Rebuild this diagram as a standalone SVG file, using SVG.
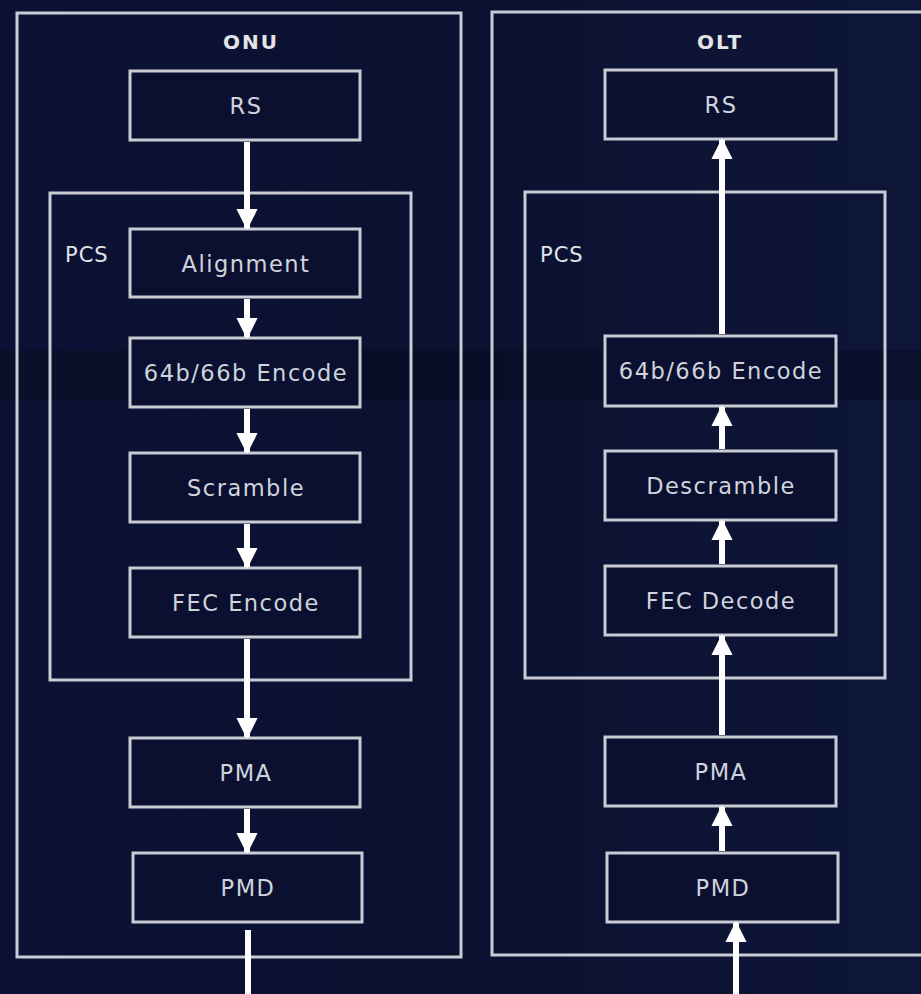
<svg xmlns="http://www.w3.org/2000/svg" width="921" height="994" viewBox="0 0 921 994">
<defs>
<style>
.frame{fill:none;stroke:#c9ccd3;stroke-width:3}
.box{fill:#0b1030;stroke:#c9ccd3;stroke-width:3}
.lbl{font-family:"DejaVu Sans","Liberation Sans",sans-serif;font-size:22.5px;letter-spacing:1.5px;fill:#d0d3dc;text-anchor:middle;dominant-baseline:central}
.ttl{font-family:"DejaVu Sans","Liberation Sans",sans-serif;font-size:20px;letter-spacing:2px;font-weight:bold;fill:#e2e4ea;text-anchor:middle;dominant-baseline:central}
.pcs{font-family:"DejaVu Sans","Liberation Sans",sans-serif;font-size:21px;letter-spacing:1px;fill:#e2e4ea;dominant-baseline:central}
.wire{stroke:#ffffff;stroke-width:6;fill:none}
</style>
<marker id="ah" viewBox="0 0 10 10" refX="9" refY="5" markerWidth="3.6" markerHeight="3.8" orient="auto" markerUnits="strokeWidth">
<path d="M0,0 L10,5 L0,10 z" fill="#ffffff"/>
</marker>
<linearGradient id="bg" x1="0" y1="0" x2="1" y2="0">
<stop offset="0" stop-color="#0c1235"/>
<stop offset="0.5" stop-color="#0b1130"/>
<stop offset="1" stop-color="#0e1638"/>
</linearGradient>
</defs>
<rect x="0" y="0" width="921" height="994" fill="url(#bg)"/>
<rect x="0" y="350" width="921" height="50" fill="#070b20" opacity="0.5"/>

<g id="onu">
<rect class="frame" x="17" y="13" width="444" height="944"/>
<text class="ttl" x="251" y="42">ONU</text>
</g>
<g id="onu-pcs">
<rect class="frame" x="50" y="193" width="361" height="487"/>
<text class="pcs" x="65" y="255">PCS</text>
</g>
<g id="onu-rs"><rect class="box" x="130" y="71" width="230" height="69"/><text class="lbl" x="246" y="106">RS</text></g>
<g id="onu-align"><rect class="box" x="130" y="229" width="230" height="68"/><text class="lbl" x="246" y="264">Alignment</text></g>
<g id="onu-enc"><rect class="box" x="130" y="338" width="230" height="69"/><text class="lbl" x="246" y="373">64b/66b Encode</text></g>
<g id="onu-scr"><rect class="box" x="130" y="453" width="230" height="69"/><text class="lbl" x="246" y="488">Scramble</text></g>
<g id="onu-fec"><rect class="box" x="130" y="568" width="230" height="69"/><text class="lbl" x="246" y="603">FEC Encode</text></g>
<g id="onu-pma"><rect class="box" x="130" y="738" width="230" height="69"/><text class="lbl" x="246" y="773">PMA</text></g>
<g id="onu-pmd"><rect class="box" x="133" y="853" width="229" height="69"/><text class="lbl" x="248" y="888">PMD</text></g>

<g id="olt">
<path class="frame" d="M930,12 L492,12 L492,955 L930,955"/>
<text class="ttl" x="720" y="42">OLT</text>
</g>
<g id="olt-pcs">
<rect class="frame" x="525" y="192" width="360" height="486"/>
<text class="pcs" x="540" y="255">PCS</text>
</g>
<g id="olt-rs"><rect class="box" x="605" y="70" width="231" height="69"/><text class="lbl" x="721" y="105">RS</text></g>
<g id="olt-enc"><rect class="box" x="605" y="336" width="231" height="70"/><text class="lbl" x="721" y="371">64b/66b Encode</text></g>
<g id="olt-des"><rect class="box" x="605" y="451" width="231" height="69"/><text class="lbl" x="721" y="486">Descramble</text></g>
<g id="olt-fec"><rect class="box" x="605" y="566" width="231" height="69"/><text class="lbl" x="721" y="601">FEC Decode</text></g>
<g id="olt-pma"><rect class="box" x="605" y="737" width="231" height="69"/><text class="lbl" x="721" y="772">PMA</text></g>
<g id="olt-pmd"><rect class="box" x="607" y="853" width="231" height="69"/><text class="lbl" x="723" y="888">PMD</text></g>

<g id="connectors">
<line class="wire" x1="247" y1="142" x2="247" y2="228" marker-end="url(#ah)"/>
<line class="wire" x1="247" y1="299" x2="247" y2="337" marker-end="url(#ah)"/>
<line class="wire" x1="247" y1="409" x2="247" y2="452" marker-end="url(#ah)"/>
<line class="wire" x1="247" y1="524" x2="247" y2="567" marker-end="url(#ah)"/>
<line class="wire" x1="247" y1="639" x2="247" y2="737" marker-end="url(#ah)"/>
<line class="wire" x1="247" y1="809" x2="247" y2="852" marker-end="url(#ah)"/>
<line class="wire" x1="248" y1="930" x2="248" y2="994"/>
<line class="wire" x1="722" y1="334" x2="722" y2="140" marker-end="url(#ah)"/>
<line class="wire" x1="722" y1="449" x2="722" y2="407" marker-end="url(#ah)"/>
<line class="wire" x1="722" y1="564" x2="722" y2="521" marker-end="url(#ah)"/>
<line class="wire" x1="722" y1="735" x2="722" y2="636" marker-end="url(#ah)"/>
<line class="wire" x1="722" y1="851" x2="722" y2="807" marker-end="url(#ah)"/>
<line class="wire" x1="736" y1="994" x2="736" y2="923" marker-end="url(#ah)"/>
</g>
</svg>
